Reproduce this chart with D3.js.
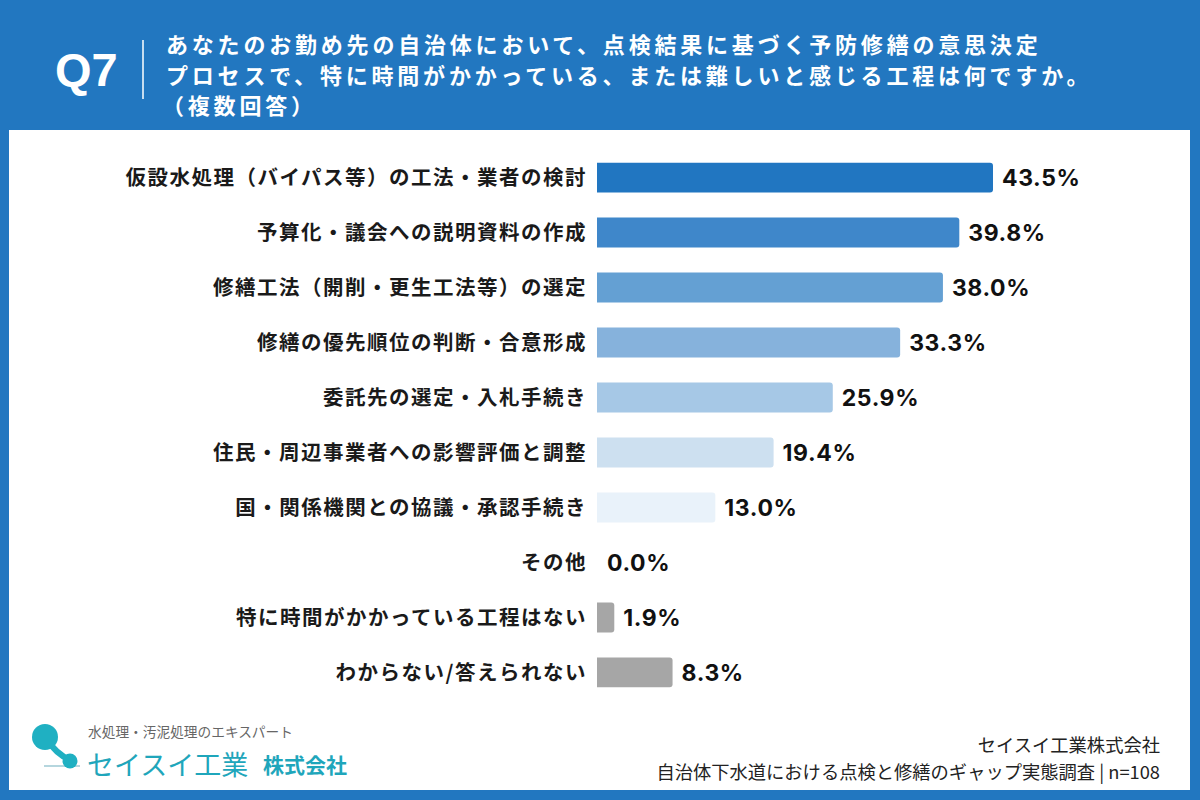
<!DOCTYPE html>
<html>
<head>
<meta charset="utf-8">
<script src="https://cdn.jsdelivr.net/npm/d3@7"></script>
<style>
  body { margin: 0; background: #2277c0; }
  svg { display: block; font-family: "Noto Sans CJK JP", "Noto Sans", sans-serif; }
</style>
</head>
<body>
<script>
// data
var categories = [
  "仮設水処理（バイパス等）の工法・業者の検討",
  "予算化・議会への説明資料の作成",
  "修繕工法（開削・更生工法等）の選定",
  "修繕の優先順位の判断・合意形成",
  "委託先の選定・入札手続き",
  "住民・周辺事業者への影響評価と調整",
  "国・関係機関との協議・承認手続き",
  "その他",
  "特に時間がかかっている工程はない",
  "わからない/答えられない"
];
var values = [43.5, 39.8, 38.0, 33.3, 25.9, 19.4, 13.0, 0.0, 1.9, 8.3];
var barColors = ["#2176c1", "#3f87ca", "#64a0d3", "#86b2dc", "#a6c8e6", "#cde0f0", "#e9f2fa", "#a6a6a6", "#a6a6a6", "#a6a6a6"];

var titleLines = [
  "あなたのお勤め先の自治体において、点検結果に基づく予防修繕の意思決定",
  "プロセスで、特に時間がかかっている、または難しいと感じる工程は何ですか。",
  "（複数回答）"
];

var width = 1200, height = 800;
var svg = d3.select("body").append("svg")
  .attr("width", width)
  .attr("height", height);

// background + white panel
svg.append("rect").attr("width", width).attr("height", height).attr("fill", "#2277c0");
svg.append("rect")
  .attr("x", 9).attr("y", 130)
  .attr("width", 1181).attr("height", 660)
  .attr("fill", "#ffffff");

// header
svg.append("text")
  .attr("x", 55).attr("y", 86)
  .attr("fill", "#fff")
  .attr("font-size", 47)
  .attr("font-weight", "bold")
  .attr("font-family", "'Liberation Sans', Arial, sans-serif")
  .text("Q7");
svg.append("line")
  .attr("x1", 143).attr("x2", 143)
  .attr("y1", 40).attr("y2", 99)
  .attr("stroke", "#fff").attr("stroke-width", 1.5);

svg.selectAll(".title")
  .data(titleLines)
  .enter().append("text")
  .attr("class", "title")
  .attr("x", (d, i) => i == 2 ? 162 : 166)
  .attr("y", (d, i) => 53 + i * 30.5)
  .attr("fill", "#fff")
  .attr("font-size", 22)
  .attr("letter-spacing", 3.8)
  .attr("font-weight", "bold")
  .text(d => d);

// scales
var x = d3.scaleLinear().domain([0, 43.5]).range([597, 993]);
var y = d3.scaleBand()
  .domain(categories)
  .range([150, 700])
  .paddingInner(0.455)
  .paddingOuter(0.23);

var rows = svg.append("g").selectAll("g")
  .data(categories)
  .enter().append("g");

rows.append("text")
  .attr("x", 587)
  .attr("y", d => y(d) + y.bandwidth() / 2)
  .attr("dy", "0.36em")
  .attr("text-anchor", "end")
  .attr("font-size", 20.5)
  .attr("letter-spacing", 1.5)
  .attr("font-weight", "bold")
  .attr("fill", "#1a1a1a")
  .text(d => d);

// bar with rounded right corners only
function barPath(x0, x1, y0, h, r) {
  var w = x1 - x0;
  if (w <= 0) return "";
  r = Math.min(r, w);
  return "M" + x0 + "," + y0 +
    "H" + (x1 - r) +
    "Q" + x1 + "," + y0 + " " + x1 + "," + (y0 + r) +
    "V" + (y0 + h - r) +
    "Q" + x1 + "," + (y0 + h) + " " + (x1 - r) + "," + (y0 + h) +
    "H" + x0 + "Z";
}

rows.append("path")
  .attr("d", (d, i) => barPath(x(0), x(values[i]), y(d), y.bandwidth(), 3))
  .attr("fill", (d, i) => barColors[i]);

rows.append("text")
  .attr("x", (d, i) => x(values[i]) + (values[i] > 0 ? 9 : 10))
  .attr("y", d => y(d) + y.bandwidth() / 2)
  .attr("dy", "0.36em")
  .attr("font-size", 23)
  .attr("letter-spacing", 0.6)
  .attr("font-weight", "bold")
  .attr("fill", "#111")
  .attr("font-family", "Inter, Roboto, sans-serif")
  .text((d, i) => values[i].toFixed(1) + "%");

// logo
var logo = svg.append("g");
logo.append("line")
  .attr("x1", 44).attr("y1", 766).attr("x2", 80).attr("y2", 766)
  .attr("stroke", "#9cc9d3").attr("stroke-width", 1.5);
logo.append("path")
  .attr("d", "M45,737 Q56,754 70,760")
  .attr("stroke", "#1fb0c2").attr("stroke-width", 6).attr("fill", "none");
logo.append("circle").attr("cx", 45).attr("cy", 737).attr("r", 13).attr("fill", "#1fb0c2");
logo.append("circle").attr("cx", 70).attr("cy", 761).attr("r", 7.5).attr("fill", "#1fb0c2");
logo.append("text")
  .attr("x", 88).attr("y", 737)
  .attr("font-size", 13.7)
  .attr("fill", "#666")
  .text("水処理・汚泥処理のエキスパート");
logo.append("text")
  .attr("x", 87).attr("y", 775)
  .attr("font-size", 27)
  .attr("fill", "#1fa6bb")
  .text("セイスイ工業");
logo.append("text")
  .attr("x", 263).attr("y", 773)
  .attr("font-size", 21)
  .attr("font-weight", "bold")
  .attr("fill", "#1fa6bb")
  .text("株式会社");

// source
svg.append("text")
  .attr("x", 1160).attr("y", 752)
  .attr("text-anchor", "end")
  .attr("font-size", 18.3)
  .attr("fill", "#222")
  .text("セイスイ工業株式会社");
svg.append("text")
  .attr("x", 1160).attr("y", 779)
  .attr("text-anchor", "end")
  .attr("font-size", 18.3)
  .attr("fill", "#222")
  .text("自治体下水道における点検と修繕のギャップ実態調査 | n=108");
</script>
</body>
</html>
